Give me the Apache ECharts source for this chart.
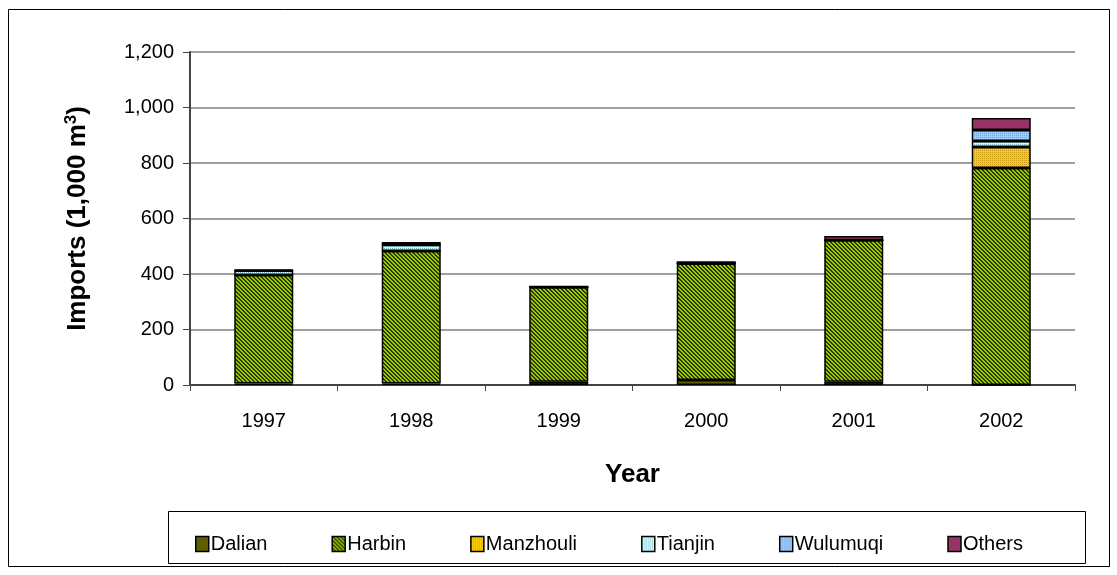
<!DOCTYPE html>
<html>
<head>
<meta charset="utf-8">
<script src="https://cdn.jsdelivr.net/npm/echarts@6/dist/echarts.min.js"></script>
<style>
  html, body { margin: 0; padding: 0; background: #fff; }
  #chart { width: 1117px; height: 575px; }
</style>
</head>
<body>
<div id="chart"></div>
<script>
// Timber imports by port of entry, 1,000 m3
const years = ['1997', '1998', '1999', '2000', '2001', '2002'];
const dalian    = [5, 5, 12, 18, 12, 0];
const harbin    = [391, 478, 340, 420, 510, 782];
const manzhouli = [0, 0, 0, 0, 0, 76];
const tianjin   = [17, 22, 0, 0, 0, 21];
const wulumuqi  = [0, 0, 0, 0, 0, 40];
const others    = [2, 10, 6, 8, 15, 43];
const yTicks = [0, 200, 400, 600, 800, 1000, 1200];

// Small repeating fill textures
function makePattern(size, base, ink, isInk) {
  const c = document.createElement('canvas');
  c.width = size; c.height = size;
  const g = c.getContext('2d');
  g.fillStyle = base;
  g.fillRect(0, 0, size, size);
  g.fillStyle = ink;
  for (let y = 0; y < size; y++) {
    for (let x = 0; x < size; x++) {
      if (isInk(x, y)) g.fillRect(x, y, 1, 1);
    }
  }
  return { image: c, repeat: 'repeat' };
}

const fills = {
  Dalian: '#5e5e00',
  Harbin: makePattern(4, '#99cc00', '#2e3a00', (x, y) => ((x - y + 8) % 4) < 2),
  Manzhouli: makePattern(4, '#ffcc00', '#c89a10', (x, y) => (x % 2 === 0 && y % 2 === 0)),
  Tianjin: makePattern(4, '#ccffff', '#7fb8c0', (x, y) => ((x + y) % 2 === 0) && (y % 2 === 0)),
  Wulumuqi: makePattern(4, '#99ccff', '#7aa5d8', (x, y) => (x % 2 === 0 && y % 2 === 1)),
  Others: '#993366'
};

const seriesDefs = [
  ['Dalian', dalian],
  ['Harbin', harbin],
  ['Manzhouli', manzhouli],
  ['Tianjin', tianjin],
  ['Wulumuqi', wulumuqi],
  ['Others', others]
];

const FONT = '"Liberation Sans", Arial, sans-serif';

const chart = echarts.init(document.getElementById('chart'), null, { renderer: 'canvas' });

chart.setOption({
  animation: false,
  backgroundColor: '#ffffff',
  textStyle: { fontFamily: FONT, color: '#000' },
  graphic: [
    { type: 'rect', shape: { x: 8.5, y: 9.5, width: 1101, height: 557 },
      style: { fill: 'none', stroke: '#000', lineWidth: 1 }, z: 0 },
    { type: 'rect', shape: { x: 168.5, y: 511.5, width: 917, height: 52 },
      style: { fill: '#fff', stroke: '#000', lineWidth: 1 }, z: 1 }
  ],
  grid: { left: 190, right: 42, top: 52, bottom: 190 },
  legend: {
    left: 190, top: 529,
    itemWidth: 13, itemHeight: 15, itemGap: 64,
    icon: 'rect',
    textStyle: { fontFamily: FONT, fontSize: 20, color: '#000', padding: [0, 0, 0, -3] },
    itemStyle: { borderColor: '#000', borderWidth: 1.5 },
    data: seriesDefs.map(d => d[0]),
    z: 5
  },
  xAxis: {
    type: 'category',
    data: years,
    name: 'Year',
    nameLocation: 'middle',
    nameGap: 77,
    nameTextStyle: { fontFamily: FONT, fontSize: 26, fontWeight: 'bold', color: '#000' },
    axisLine: { lineStyle: { color: '#444', width: 2 } },
    axisTick: { show: true, inside: false, length: 6, lineStyle: { color: '#444', width: 1 } },
    axisLabel: { fontFamily: FONT, fontSize: 20, color: '#000', margin: 26 },
    splitLine: { show: false }
  },
  yAxis: {
    type: 'value',
    min: 0, max: 1200, interval: 200,
    name: 'Imports (1,000 m{sup|3})',
    nameLocation: 'middle',
    nameGap: 98,
    nameRotate: 90,
    nameTextStyle: {
      fontFamily: FONT, fontSize: 26, fontWeight: 'bold', color: '#000',
      rich: { sup: { fontFamily: FONT, fontSize: 17, fontWeight: 'bold', color: '#000', verticalAlign: 'top', padding: [0, 0, 12, 0] } }
    },
    axisLine: { show: true, lineStyle: { color: '#444', width: 2 } },
    axisTick: { show: true, inside: false, length: 7, lineStyle: { color: '#444' } },
    axisLabel: {
      fontFamily: FONT, fontSize: 20, color: '#000', margin: 16,
      formatter: v => yTicks.includes(v) ? v.toLocaleString('en-US') : ''
    },
    splitLine: { show: true, lineStyle: { color: '#808080', width: 1.5 } }
  },
  series: seriesDefs.map(([name, values]) => ({
    name: name,
    type: 'bar',
    stack: 'total',
    barWidth: '40%',
    data: values,
    itemStyle: { color: fills[name], borderColor: '#000', borderWidth: 1.5 },
    emphasis: { disabled: true }
  }))
});
</script>
</body>
</html>
